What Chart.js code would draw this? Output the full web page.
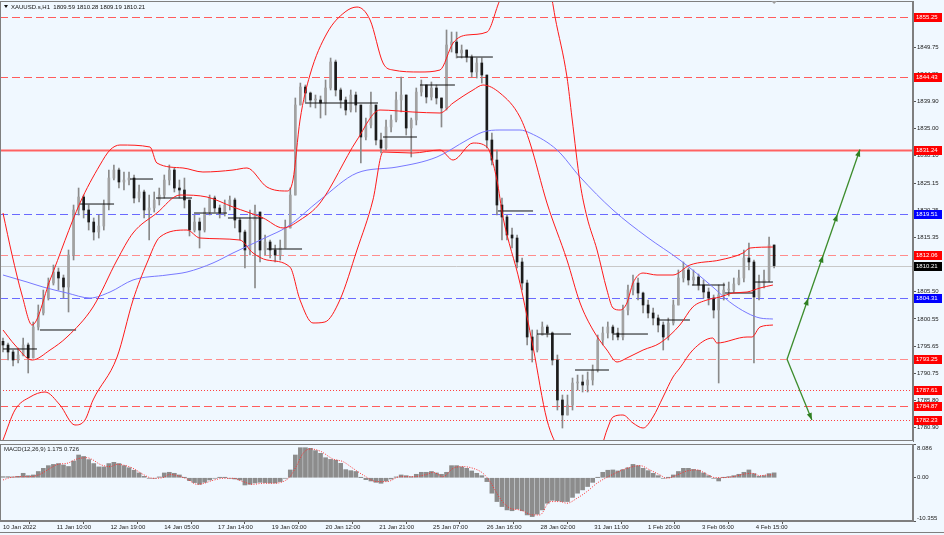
<!DOCTYPE html>
<html><head><meta charset="utf-8">
<script src="https://cdn.jsdelivr.net/npm/chart.js@4.4.1/dist/chart.umd.min.js"></script>
<style>
html,body{margin:0;padding:0;background:#f0f8ff;}
#wrap{position:relative;width:944px;height:535px;overflow:hidden;background:#f0f8ff;}
#c1{position:absolute;left:0;top:0;}
#c2{position:absolute;left:0;top:443px;}
</style></head><body>
<div id="wrap"><canvas id="c1" width="944" height="443"></canvas><canvas id="c2" width="944" height="92"></canvas></div>
<script>
// ---------------- DATA ----------------
const symbolTitle = 'XAUUSD.s,H1  1809.59 1810.28 1809.19 1810.21';
const macdTitle = 'MACD(12,26,9) 1.175 0.726';
const barsPerCandle = 3;
const firstOpen = 1796.50;
const candleClose = [1795.83,1794.56,1793.11,1794.02,1795.83,1793.48,1799.09,1801.63,1804.34,1807.06,
1809.05,1807.97,1806.34,1812.13,1820.29,1822.64,1820.29,1818.11,1816.30,1817.39,
1821.19,1826.08,1827.53,1825.36,1825.72,1826.08,1822.46,1823.55,1820.29,1820.65,
1822.10,1823.00,1825.72,1827.53,1824.27,1823.91,1822.10,1816.66,1818.11,1816.66,
1819.92,1822.46,1820.65,1819.74,1821.19,1822.10,1818.47,1816.30,1813.04,1818.47,
1819.92,1813.04,1814.49,1813.04,1812.13,1813.40,1817.03,1823.00,1839.31,1842.57,
1841.48,1840.21,1840.21,1839.67,1842.39,1847.10,1842.03,1840.21,1838.40,1841.12,
1839.31,1833.51,1835.69,1839.31,1832.97,1831.52,1835.32,1836.59,1840.21,1841.12,
1835.14,1836.59,1841.66,1842.93,1840.76,1842.39,1840.58,1838.77,1850.18,1850.72,
1848.73,1849.27,1848.00,1845.29,1846.92,1844.74,1832.97,1829.34,1821.19,1819.02,
1815.76,1815.21,1810.87,1807.06,1797.28,1794.92,1797.64,1799.09,1798.00,1793.11,
1785.87,1783.15,1784.96,1788.95,1789.13,1788.58,1789.49,1791.30,1796.74,1798.00,
1799.09,1798.00,1797.28,1802.17,1805.79,1807.06,1805.25,1803.08,1801.63,1800.72,
1799.45,1797.28,1799.82,1803.08,1807.97,1809.42,1807.61,1808.15,1806.70,1805.43,
1804.34,1802.17,1804.89,1805.79,1805.79,1806.88,1807.97,1811.59,1810.87,1804.53,
1807.06,1807.61,1813.95,1810.21];
const candleHigh = [1797.10,1796.19,1794.92,1795.29,1797.10,1796.19,1800.00,1803.08,1805.79,1807.97,
1810.32,1809.78,1808.51,1813.04,1821.19,1824.27,1823.00,1821.19,1818.84,1819.38,
1822.10,1827.53,1828.44,1827.90,1827.17,1827.17,1826.63,1824.82,1823.91,1823.00,
1823.55,1824.27,1826.63,1828.44,1827.90,1825.72,1826.08,1822.10,1819.38,1818.84,
1820.65,1823.00,1822.82,1821.19,1822.10,1822.82,1822.46,1818.84,1816.66,1820.29,
1821.19,1819.92,1815.76,1814.85,1813.95,1814.85,1818.47,1824.27,1840.58,1843.29,
1842.93,1841.66,1841.12,1840.94,1843.84,1847.82,1847.46,1842.39,1840.76,1842.03,
1841.66,1839.31,1836.95,1841.66,1836.95,1834.24,1836.59,1837.50,1841.66,1844.38,
1839.31,1836.95,1842.39,1843.84,1842.93,1843.48,1842.93,1840.58,1852.90,1852.53,
1852.53,1850.18,1849.27,1848.37,1847.82,1847.82,1844.74,1834.24,1831.16,1822.46,
1819.38,1817.03,1815.76,1811.59,1807.61,1798.55,1798.55,1800.00,1799.45,1798.19,
1794.02,1786.77,1786.77,1789.85,1790.39,1790.39,1790.94,1792.21,1797.64,1799.09,
1800.00,1799.45,1798.91,1803.08,1806.70,1808.51,1807.97,1805.43,1803.98,1802.53,
1801.27,1800.00,1800.72,1803.98,1809.42,1810.87,1809.78,1809.42,1808.69,1807.61,
1806.16,1804.89,1806.70,1807.06,1807.24,1807.97,1809.42,1813.04,1814.31,1811.23,
1808.51,1809.42,1815.40,1812.13];
const candleLow = [1794.56,1793.11,1792.02,1792.57,1793.84,1790.76,1793.48,1798.55,1801.27,1803.98,
1806.70,1805.79,1804.34,1801.81,1811.23,1819.38,1818.84,1816.66,1814.85,1815.21,
1816.66,1820.29,1825.72,1824.27,1823.91,1824.82,1821.55,1821.74,1818.84,1814.85,
1819.92,1821.19,1822.46,1824.82,1823.55,1822.46,1820.65,1815.58,1816.30,1813.40,
1816.30,1819.38,1819.92,1818.84,1819.20,1820.29,1817.03,1814.85,1809.78,1812.13,
1806.16,1810.87,1812.13,1811.59,1810.87,1811.23,1813.95,1817.57,1823.91,1840.21,
1839.85,1838.95,1838.77,1836.95,1837.50,1842.03,1840.94,1838.77,1837.50,1838.04,
1838.04,1828.80,1832.97,1835.14,1832.06,1830.61,1831.16,1834.42,1836.23,1838.04,
1833.87,1829.89,1835.69,1840.94,1839.67,1840.21,1839.49,1835.32,1838.40,1848.91,
1847.82,1847.82,1847.10,1844.38,1844.20,1843.29,1831.52,1828.44,1819.38,1814.85,
1814.85,1813.40,1809.78,1805.79,1795.83,1792.75,1794.56,1797.64,1797.28,1792.21,
1784.05,1780.79,1783.15,1784.05,1787.68,1787.32,1787.32,1788.58,1790.94,1795.83,
1797.10,1796.74,1796.74,1796.74,1801.27,1804.89,1803.98,1801.63,1800.72,1799.45,
1798.19,1794.92,1796.74,1799.45,1803.08,1807.24,1806.70,1806.70,1805.79,1804.34,
1803.08,1800.72,1788.95,1803.98,1804.71,1805.43,1806.70,1807.24,1809.42,1792.57,
1803.98,1806.16,1807.24,1809.78];

// Bollinger bands, x in hourly-bar index
const bbUpBar = [0,5.4,11.3,17.3,28.0,45.8,57.7,63.7,69.6,87.5,91.6,107.1,119.0,136.9,145.2,157.1,169.0,172.6,176.8,182.7,192.9,203.6,210.7,218.5,226.2,232.1,248.2,260.1,267.9,276.2,288.1,295.8,304.8,313.7,322.6,326.8,328.6,335.7,338.7,343.5,347.6,353.6,359.5,363.1,367.3,371.4,375.0,381.0,389.3,398.8,408.9,426.8,440.5,444.6,458.3];
const bbUpVal = [1819.74,1812.13,1804.89,1799.45,1807.61,1821.55,1828.44,1831.16,1832.06,1831.70,1828.80,1827.90,1827.17,1827.53,1827.90,1824.45,1823.73,1825.72,1836.59,1844.74,1852.35,1856.16,1857.06,1854.71,1846.92,1845.65,1845.29,1845.65,1850.54,1851.99,1852.53,1858.33,1862.86,1865.58,1861.05,1858.33,1855.25,1844.38,1836.95,1825.18,1819.02,1813.04,1805.79,1802.53,1802.17,1803.44,1807.06,1808.87,1808.51,1808.51,1810.32,1811.23,1812.50,1813.40,1813.58];
const bbMidBar = [0,7.1,17.3,28.0,38.1,53.6,67.9,77.4,91.6,105.4,121.4,136.9,154.8,166.7,176.8,188.7,210.7,224.4,244.0,260.1,267.9,279.8,285.7,295.8,307.7,313.7,323.8,335.7,343.5,351.2,359.5,365.5,371.4,381.0,391.1,402.9,410.6,419.0,426.8,434.5,442.9,450.6,458.3];
const bbMidVal = [1798.55,1795.83,1793.11,1794.92,1797.28,1802.72,1811.23,1816.12,1819.74,1823.00,1822.64,1820.83,1818.84,1817.03,1818.47,1821.55,1832.97,1838.40,1838.04,1837.86,1839.67,1842.03,1842.93,1841.48,1837.14,1832.42,1821.55,1811.23,1803.44,1798.55,1794.92,1792.75,1793.48,1794.92,1796.19,1799.45,1802.72,1803.98,1804.53,1805.25,1805.43,1806.16,1806.70];
const bbLowBar = [0,7.1,16.1,25.0,33.9,42.8,48.8,53.6,67.9,77.4,85.7,93.4,109.5,117.2,141.0,148.8,157.1,170.8,176.8,184.5,191.6,200.5,210.7,220.2,226.2,244.0,260.1,267.9,279.8,288.1,294.0,297.6,307.7,315.5,323.8,331.6,343.5,355.4,359.5,363.1,369.0,375.0,381.0,386.9,392.9,398.8,402.9,410.6,422.5,424.9,442.9,445.8,450.6,458.3];
const bbLowVal = [1778.62,1784.05,1786.41,1787.32,1784.96,1781.34,1782.25,1785.87,1793.66,1803.98,1810.69,1815.40,1816.66,1815.21,1814.85,1812.50,1811.23,1809.96,1803.98,1799.82,1800.00,1803.98,1813.04,1822.10,1830.79,1830.61,1831.16,1829.34,1832.42,1831.70,1825.72,1819.02,1807.06,1795.47,1782.25,1776.81,1775.00,1776.81,1780.43,1782.79,1783.15,1781.70,1780.79,1782.79,1786.41,1790.03,1791.66,1794.92,1797.10,1796.19,1797.28,1797.28,1799.09,1799.45];
// blue moving average
const maBar = [0,14.3,23.8,38.1,51.8,63.7,77.4,97.6,109.5,125.0,136.9,157.1,169.0,188.7,210.7,234.5,258.3,276.2,285.7,295.8,307.7,313.7,329.8,343.5,363.1,383.3,402.9,422.5,432.6,442.9,450.6,458.3];
const maVal = [1808.51,1807.24,1806.34,1805.25,1804.34,1805.43,1807.61,1808.51,1809.05,1810.69,1812.50,1815.40,1817.21,1822.10,1826.99,1828.07,1829.89,1832.97,1834.42,1834.78,1834.78,1834.24,1831.16,1826.27,1820.29,1815.40,1811.23,1806.34,1803.62,1801.63,1800.72,1800.54];
// black horizontal step segments
const segStart = [0,22.0,45.8,75.6,91.1,113.7,133.9,157.1,179.8,201.2,226.2,248.2,270.2,294.6,317.9,340.5,363.1,389.3,410.1,429.8,447.6];
const segEnd   = [20.2,43.5,66.1,89.3,112.5,133.3,154.8,178.0,201.2,223.2,246.4,269.0,291.6,315.5,338.1,360.7,383.9,408.9,429.8,446.4,458.3];
const segLevel = [1795.11,1798.55,1821.37,1825.90,1822.46,1819.74,1818.84,1813.22,1839.67,1839.67,1833.51,1842.93,1848.00,1820.11,1797.82,1791.30,1797.82,1800.36,1806.70,1805.25,1807.24];
// horizontal levels
const levelPrices = [1855.25,1844.43,1831.24,1819.51,1812.06,1810.21,1804.31,1793.25,1787.61,1784.87,1782.23];
// price axis ticks
const priceTicks = [1849.75,1844.85,1839.90,1835.00,1830.10,1825.15,1820.25,1815.35,1810.45,1805.50,1800.55,1795.65,1790.75,1785.80,1780.90];
// projection arrows
const arrowStart = {bar:466.7, price:1793.25};
const arrowUpEnd = {bar:510.1, price:1831.24};
const arrowUpTargets = [1804.31,1812.06,1819.51,1831.24];
const arrowDownEnd = {bar:481.5, price:1782.23};
// MACD
const macdHist = [0.26,0.26,0.2,0.35,1.07,0.5,0.67,1.5,2.26,2.9,
3.2,3.4,3.06,2.7,4.0,5.45,5.1,4.35,3.4,2.6,
2.6,3.4,3.7,3.4,2.9,2.4,1.8,1.15,0.35,-0.13,
-0.13,0.2,1.15,1.31,1.07,0.67,0.03,-0.7,-1.16,-1.57,
-1.09,-0.53,-0.13,0.03,0.03,-0.13,-0.29,-0.53,-1.73,-1.57,
-1.24,-1.09,-1.16,-1.24,-1.24,-0.92,-0.13,1.87,5.45,7.2,
7.2,7.05,6.5,5.85,4.8,4.4,4.2,3.46,1.95,1.7,
1.5,0.03,-0.45,-0.77,-1.09,-1.32,-0.77,-0.29,0.2,0.67,
0.5,0.26,0.83,1.31,1.31,1.5,1.15,0.83,1.31,2.9,
2.9,2.6,2.26,1.63,1.07,0.5,-0.92,-3.7,-5.7,-6.9,
-7.7,-7.9,-7.45,-7.9,-8.9,-9.3,-8.7,-7.7,-6.1,-5.4,
-5.5,-5.7,-5.7,-4.7,-3.7,-2.9,-2.1,-1.1,0.03,1.31,
1.8,1.87,1.63,1.95,2.4,3.2,2.9,2.26,1.7,1.07,
0.5,-0.13,0.03,0.67,1.5,2.26,2.26,2.0,1.8,1.15,
0.5,-0.13,-0.77,0.03,0.26,0.5,0.83,1.31,1.87,0.99,
0.35,0.5,0.99,1.175];
const sigBar = [0,4.2,10.1,16.1,22.0,28.0,32.7,38.1,44.0,50.0,53.6,57.7,63.7,67.9,71.4,77.4,83.3,89.3,95.2,99.4,103.6,109.5,115.5,119.0,125.0,131.0,136.9,142.9,148.8,154.8,160.7,166.7,170.8,175.0,178.6,182.7,188.7,196.4,202.4,208.3,214.3,222.6,228.6,236.3,244.0,252.4,256.0,261.9,267.9,273.8,279.8,285.7,289.9,295.8,301.8,307.7,315.5,319.6,325.6,331.5,335.7,341.7,347.6,353.6,363.1,371.4,379.2,385.1,391.1,395.2,401.2,407.1,413.1,419.0,423.8,428.6,434.5,440.5,445.8,450.6,454.8,458.3];
const sigVal = [-0.53,0.03,0.26,0.26,0.83,2.26,3.22,3.46,4.5,4.8,4.26,3.22,2.66,3.22,3.06,2.26,0.83,-0.13,0.03,0.83,0.5,-0.29,-1.57,-1.4,-0.61,-0.13,-0.13,-0.92,-1.57,-1.32,-1.32,-0.92,0.26,3.06,5.85,6.9,6.4,4.5,3.86,2.26,0.67,-0.92,-0.92,0.26,0.26,0.83,1.31,0.26,2.26,2.66,2.26,1.07,-0.92,-4.9,-7.3,-7.7,-8.9,-8.9,-5.7,-5.7,-6.1,-4.9,-3.3,-1.3,0.83,2.26,2.9,1.87,0.67,-0.13,0.67,1.63,1.87,0.83,0.03,0.03,0.26,0.83,1.07,0.5,0.67,0.726];
const macdTickVals = [8.086, 0, -10.355];
const macdTickText = ['8.086','0.00','-10.355'];
// time axis
const dateTickBars = [0,32,64,96,128,160,192,224,256,288,320,352,384,416,448];
const dateLabels = ['10 Jan 2022','11 Jan 10:00','12 Jan 19:00','14 Jan 05:00','17 Jan 14:00','19 Jan 03:00','20 Jan 12:00','21 Jan 21:00','25 Jan 07:00','26 Jan 16:00','28 Jan 02:00','31 Jan 11:00','1 Feb 20:00','3 Feb 06:00','4 Feb 15:00'];

// ---------------- STYLES ----------------
const BG = '#f0f8ff';
const FONT = '"Liberation Sans", Arial, sans-serif';
const levelLineColor = ['#ff5c5c','#ff5c5c','#ff6262','#6a6aff','#ff8c8c','#c8c8c8','#6a6aff','#ff8c8c','#ff4040','#ff5c5c','#ff4040'];
const levelDash = [[8,4],[8,4],[],[8,4],[8,4],[],[8,4],[8,4],[1,2],[8,4],[1,2]];
const levelWidth = [1,1,2,1,1,1,1,1,1,1,1];
const levelBox = ['#ff0000','#ff0000','#ff0000','#0000ff','#ff0000','#000000','#0000ff','#ff0000','#ff0000','#ff0000','#ff0000'];
const X_MIN = -1.79, X_MAX = 541.67;
const Y_MIN = 1778.44, Y_MAX = 1858.15;

Chart.defaults.font.family = FONT;
Chart.defaults.font.size = 6;
Chart.defaults.color = '#222';

// ---------------- BUILD ----------------
const opens = candleClose.map((c,k)=> k===0 ? firstOpen : candleClose[k-1]);
const candleBar = candleClose.map((c,k)=> k*barsPerCandle);
const wickData = candleBar.map((b,k)=>({x:b, y:[Math.min(candleLow[k],opens[k],candleClose[k]), Math.max(candleHigh[k],opens[k],candleClose[k])]}));
const bodyData = candleBar.map((b,k)=>({x:b, y:[opens[k], candleClose[k]]}));
const pts = (xs,ys)=> xs.map((x,i)=>({x:x,y:ys[i]}));
const segData = [];
segStart.forEach((s,i)=>{ segData.push({x:s,y:segLevel[i]}); segData.push({x:segEnd[i],y:segLevel[i]}); segData.push({x:segEnd[i],y:null}); });

function noPad(scale){ scale.paddingTop=0; scale.paddingBottom=0; scale.paddingLeft=0; scale.paddingRight=0; }

function arrowHead(ctx,x,y,ang){
  const L=7, w=2.6;
  ctx.beginPath();
  ctx.moveTo(x,y);
  ctx.lineTo(x-L*Math.cos(ang)+w*Math.sin(ang), y-L*Math.sin(ang)-w*Math.cos(ang));
  ctx.lineTo(x-L*Math.cos(ang)-w*Math.sin(ang), y-L*Math.sin(ang)+w*Math.cos(ang));
  ctx.closePath(); ctx.fill();
}

const mainPlugin = {
  id:'mainDecor',
  beforeDraw(chart){
    const ctx=chart.ctx; ctx.save(); ctx.fillStyle=BG; ctx.fillRect(0,0,chart.width,chart.height); ctx.restore();
  },
  beforeDatasetsDraw(chart){
    const {ctx, chartArea:a, scales:{y}} = chart;
    ctx.save();
    ctx.beginPath(); ctx.rect(a.left,a.top,a.right-a.left,a.bottom-a.top); ctx.clip();
    levelPrices.forEach((p,i)=>{
      const yy = Math.round(y.getPixelForValue(p))+0.5;
      ctx.strokeStyle=levelLineColor[i]; ctx.lineWidth=levelWidth[i]; ctx.setLineDash(levelDash[i]);
      ctx.beginPath(); ctx.moveTo(a.left,yy); ctx.lineTo(a.right,yy); ctx.stroke();
    });
    ctx.restore();
  },
  afterDatasetsDraw(chart){
    const {ctx, chartArea:a, scales:{x,y}} = chart;
    ctx.save();
    ctx.beginPath(); ctx.rect(a.left,a.top,a.right-a.left,a.bottom-a.top); ctx.clip();
    const sx=x.getPixelForValue(arrowStart.bar), sy=y.getPixelForValue(arrowStart.price);
    const ux=x.getPixelForValue(arrowUpEnd.bar), uy=y.getPixelForValue(arrowUpEnd.price);
    const dx=x.getPixelForValue(arrowDownEnd.bar), dy=y.getPixelForValue(arrowDownEnd.price);
    ctx.strokeStyle='#3c8c2c'; ctx.fillStyle='#2f7f22'; ctx.lineWidth=1.3;
    ctx.beginPath(); ctx.moveTo(sx,sy); ctx.lineTo(ux,uy); ctx.stroke();
    ctx.beginPath(); ctx.moveTo(sx,sy); ctx.lineTo(dx,dy); ctx.stroke();
    const angU=Math.atan2(uy-sy,ux-sx);
    arrowUpTargets.forEach(p=>{
      const t=(p-arrowStart.price)/(arrowUpEnd.price-arrowStart.price);
      arrowHead(ctx, sx+(ux-sx)*t, sy+(uy-sy)*t, angU);
    });
    arrowHead(ctx,dx,dy,Math.atan2(dy-sy,dx-sx));
    ctx.restore();
  },
  afterDraw(chart){
    const {ctx, chartArea:a, scales:{x,y}} = chart;
    ctx.save();
    ctx.strokeStyle='#7f7f7f'; ctx.lineWidth=1; ctx.setLineDash([]);
    ctx.strokeRect(a.left+0.5,a.top+0.5,a.right-a.left-1,a.bottom-a.top-1);
    ctx.font='6px '+FONT; ctx.textBaseline='middle'; ctx.textAlign='left';
    levelPrices.forEach((p,i)=>{
      const yy=Math.round(y.getPixelForValue(p));
      ctx.fillStyle=levelBox[i]; ctx.fillRect(a.right+1,yy-4,28,9);
      ctx.fillStyle='#ffffff'; ctx.fillText(p.toFixed(2), a.right+3, yy+0.5);
    });
    ctx.fillStyle='#111';
    ctx.beginPath(); ctx.moveTo(4,5); ctx.lineTo(8,5); ctx.lineTo(6,8); ctx.closePath(); ctx.fill();
    ctx.font='6px '+FONT; ctx.fillText(symbolTitle, 11, 7);
    const mx=x.getPixelForValue(candleBar[candleBar.length-1]);
    ctx.fillStyle='#a0a0a0';
    ctx.beginPath(); ctx.moveTo(mx-3,1); ctx.lineTo(mx+3,1); ctx.lineTo(mx,4); ctx.closePath(); ctx.fill();
    ctx.restore();
  }
};

new Chart(document.getElementById('c1'), {
  type:'bar',
  data:{ datasets:[
    {type:'line', data:pts(bbUpBar,bbUpVal), borderColor:'#ff1a1a', borderWidth:1, pointRadius:0, cubicInterpolationMode:'monotone', order:1},
    {type:'line', data:pts(bbMidBar,bbMidVal), borderColor:'#ff1a1a', borderWidth:1, pointRadius:0, cubicInterpolationMode:'monotone', order:1},
    {type:'line', data:pts(bbLowBar,bbLowVal), borderColor:'#ff1a1a', borderWidth:1, pointRadius:0, cubicInterpolationMode:'monotone', order:1},
    {type:'line', data:pts(maBar,maVal), borderColor:'#7878ff', borderWidth:1, pointRadius:0, cubicInterpolationMode:'monotone', order:1},
    {type:'line', data:segData, borderColor:'#111', borderWidth:1, pointRadius:0, spanGaps:false, tension:0, order:2},
    {type:'bar', data:wickData, backgroundColor:'#8a8a8a', barThickness:1, grouped:false, order:4},
    {type:'bar', data:bodyData, backgroundColor:(c)=> candleClose[c.dataIndex]>=opens[c.dataIndex] ? '#a2a2a2' : '#1c1c1c', barThickness:2, minBarLength:1, grouped:false, order:3}
  ]},
  options:{
    responsive:false, animation:false, devicePixelRatio:1,
    layout:{padding:{left:0,top:1,right:0,bottom:2}},
    plugins:{legend:{display:false}, tooltip:{enabled:false}},
    scales:{
      x:{type:'linear', min:X_MIN, max:X_MAX, offset:false, display:false},
      y:{type:'linear', position:'right', min:Y_MIN, max:Y_MAX,
         afterBuildTicks:(s)=>{ s.ticks = priceTicks.map(v=>({value:v})); },
         afterFit:(s)=>{ s.width=31; noPad(s); },
         grid:{drawOnChartArea:false, drawTicks:true, tickLength:3, color:'#555'},
         border:{display:true, color:'#7f7f7f'},
         ticks:{autoSkip:false, padding:1, color:'#222', font:{size:6}, callback:(v)=>Number(v).toFixed(2)}
      }
    }
  },
  plugins:[mainPlugin]
});

const macdPlugin = {
  id:'macdDecor',
  beforeDraw(chart){ const ctx=chart.ctx; ctx.save(); ctx.fillStyle=BG; ctx.fillRect(0,0,chart.width,chart.height); ctx.restore(); },
  afterDraw(chart){
    const {ctx, chartArea:a, scales:{y}} = chart;
    ctx.save();
    ctx.strokeStyle='#7f7f7f'; ctx.lineWidth=1;
    ctx.strokeRect(a.left+0.5,a.top+0.5,a.right-a.left-1,a.bottom-a.top-1);
    ctx.beginPath(); ctx.moveTo(0,chart.height-2.5); ctx.lineTo(chart.width,chart.height-2.5); ctx.stroke();
    ctx.fillStyle='#222'; ctx.font='6px '+FONT; ctx.textBaseline='middle'; ctx.textAlign='left';
    ctx.fillText(macdTitle, 4, a.top+5);
    // MACD scale labels kept inside the panel like the terminal does
    macdTickVals.forEach((v,i)=>{
      const yy = Math.min(Math.max(y.getPixelForValue(v), a.top+4), a.bottom-3);
      ctx.fillText(macdTickText[i], a.right+4, yy);
    });
    ctx.restore();
  }
};

new Chart(document.getElementById('c2'), {
  type:'bar',
  data:{ datasets:[
    {type:'line', data:pts(sigBar,sigVal), borderColor:'#ff3030', borderWidth:1, borderDash:[1,1.5], pointRadius:0, cubicInterpolationMode:'monotone', order:1},
    {type:'bar', data:pts(candleBar,macdHist), backgroundColor:'#8c8c8c', barThickness:4, grouped:false, order:2}
  ]},
  options:{
    responsive:false, animation:false, devicePixelRatio:1,
    layout:{padding:{left:0,top:1,right:0,bottom:0}},
    plugins:{legend:{display:false}, tooltip:{enabled:false}},
    scales:{
      x:{type:'linear', min:X_MIN, max:X_MAX, offset:false, position:'bottom',
         afterBuildTicks:(s)=>{ s.ticks = dateTickBars.map(v=>({value:v})); },
         afterFit:(s)=>{ s.height=14; noPad(s); },
         grid:{drawOnChartArea:false, drawTicks:true, tickLength:3, color:'#555'},
         border:{display:true, color:'#7f7f7f'},
         ticks:{autoSkip:false, maxRotation:0, align:'start', padding:0, color:'#222', font:{size:6}, callback:(v,i)=>dateLabels[i]}
      },
      y:{type:'linear', position:'right', min:-10.355, max:8.086,
         afterBuildTicks:(s)=>{ s.ticks = macdTickVals.map(v=>({value:v})); },
         afterFit:(s)=>{ s.width=31; noPad(s); },
         grid:{drawOnChartArea:false, drawTicks:true, tickLength:3, color:'#555'},
         border:{display:true, color:'#7f7f7f'},
         ticks:{autoSkip:false, padding:1, color:'rgba(0,0,0,0)', font:{size:6}, callback:(v,i)=>macdTickText[i]}
      }
    }
  },
  plugins:[macdPlugin]
});
</script>
</body></html>
